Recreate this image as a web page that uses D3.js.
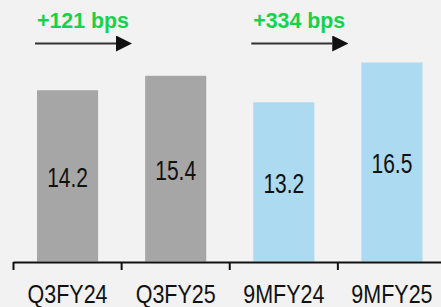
<!DOCTYPE html>
<html><head><meta charset="utf-8">
<script src="https://cdn.jsdelivr.net/npm/d3@7"></script>
<style>html,body{margin:0;padding:0;background:#f2f2f2;}svg{display:block;}</style>
</head><body>
<script>
const categories = ["Q3FY24", "Q3FY25", "9MFY24", "9MFY25"];
const values = [14.2, 15.4, 13.2, 16.5];
const barColors = ["#a6a6a6", "#a6a6a6", "#acdaf0", "#acdaf0"];
const changeLabels = ["+121 bps", "+334 bps"];
const changeFrom = ["Q3FY24", "9MFY24"];

const W = 441, H = 307;
const svg = d3.select("body").append("svg").attr("width", W).attr("height", H);
svg.append("rect").attr("width", W).attr("height", H).attr("fill", "#f2f2f2");

const x = d3.scaleBand().domain(categories).range([13.5, 446]).padding(0);
const y = d3.scaleLinear().domain([0, 20]).range([261.5, 20.3]);
const barW = x.bandwidth() * 0.565;
const font = "'Liberation Sans', Arial, sans-serif";

// bars
svg.selectAll("rect.bar").data(categories).enter().append("rect")
  .attr("class", "bar")
  .attr("x", d => x(d) + (x.bandwidth() - barW) / 2)
  .attr("width", barW)
  .attr("y", (d, i) => y(values[i]))
  .attr("height", (d, i) => y(0) - y(values[i]))
  .attr("fill", (d, i) => barColors[i]);

// value labels
svg.selectAll("text.val").data(categories).enter().append("text")
  .attr("class", "val")
  .attr("transform", (d, i) => `translate(${x(d) + x.bandwidth() / 2},${(y(values[i]) + y(0)) / 2 + 11}) scale(0.75,1)`)
  .attr("text-anchor", "middle")
  .attr("font-family", font)
  .attr("font-size", 28)
  .attr("fill", "#111")
  .text((d, i) => values[i].toFixed(1));

// axis
const ax = svg.append("g");
ax.append("line").attr("x1", x(categories[0])).attr("x2", W).attr("y1", 262.5).attr("y2", 262.5)
  .attr("stroke", "#111").attr("stroke-width", 2);
ax.selectAll("line.tick").data(categories).enter().append("line")
  .attr("class", "tick")
  .attr("x1", d => x(d)).attr("x2", d => x(d))
  .attr("y1", 262).attr("y2", 270)
  .attr("stroke", "#111").attr("stroke-width", 2);
ax.selectAll("text.cat").data(categories).enter().append("text")
  .attr("class", "cat")
  .attr("transform", d => `translate(${x(d) + x.bandwidth() / 2},303) scale(0.86,1)`)
  .attr("text-anchor", "middle")
  .attr("font-family", font)
  .attr("font-size", 25)
  .attr("fill", "#111")
  .text(d => d);

// change annotations
const defs = svg.append("defs");
defs.append("marker").attr("id", "ah").attr("viewBox", "0 0 16 16")
  .attr("refX", 0).attr("refY", 8).attr("markerWidth", 16).attr("markerHeight", 16)
  .attr("markerUnits", "userSpaceOnUse").attr("orient", "auto")
  .append("path").attr("d", "M0,0 L16,8 L0,16 Z").attr("fill", "#111");

changeFrom.forEach((c, i) => {
  const x0 = x(c) + (x.bandwidth() - barW) / 2 - 2;
  svg.append("line")
    .attr("x1", x0).attr("x2", x0 + 81)
    .attr("y1", 43.5).attr("y2", 43.5)
    .attr("stroke", "#333").attr("stroke-width", 2)
    .attr("marker-end", "url(#ah)");
  svg.append("text")
    .attr("transform", `translate(${x0 + 2},28) scale(0.97,1)`)
    .attr("font-family", font)
    .attr("font-weight", "bold")
    .attr("font-size", 22)
    .attr("fill", "#16d24a")
    .text(changeLabels[i]);
});
</script>
</body></html>
